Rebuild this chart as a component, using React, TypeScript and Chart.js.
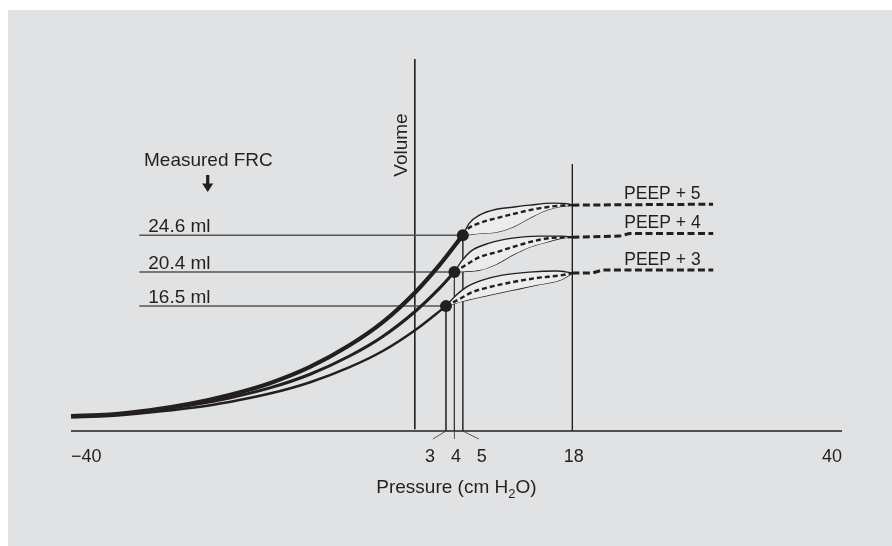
import { useEffect, useRef } from "react";
import { Chart, registerables } from "chart.js";

Chart.register(...registerables);

type Pt = [number, number];

// Pressure (cm H2O) vs. volume (ml) — schematic pressure–volume curves
const inflationPeep5: Pt[] = [[-41.5, 3.96], [-36.9, 4.13], [-32.2, 4.61], [-27.4, 5.35], [-22.7, 6.36], [-17.9, 7.71], [-13.2, 9.54], [-8.5, 12.0], [-4.5, 14.67], [-0.63, 18.09], [2.22, 21.17], [5, 24.6]];
const inflationPeep4: Pt[] = [[-41.5, 3.89], [-36.9, 4.09], [-32.2, 4.55], [-27.4, 5.18], [-22.7, 6.03], [-17.9, 7.17], [-13.2, 8.7], [-8.5, 10.78], [-4.5, 13.04], [-0.63, 15.92], [2.22, 18.52], [4, 20.4]];
const inflationPeep3: Pt[] = [[-41.5, 3.81], [-36.9, 3.96], [-32.2, 4.35], [-27.4, 4.87], [-22.7, 5.57], [-17.9, 6.52], [-13.2, 7.79], [-8.5, 9.51], [-4.5, 11.38], [-0.63, 13.78], [3, 16.5]];

const loop5Upper: Pt[] = [[5, 24.6], [5.78, 25.97], [6.97, 26.88], [8.98, 27.56], [10.88, 27.79], [12.9, 28.02], [15.63, 28.25], [17.64, 28.13], [18, 28.02]];
const loop5Mean: Pt[] = [[5, 24.6], [5.19, 24.94], [6.97, 25.97], [8.98, 26.54], [10.88, 26.99], [12.9, 27.45], [14.91, 27.79], [17.64, 28.02], [18, 28.02]];
const loop5Lower: Pt[] = [[5, 24.6], [7.32, 24.83], [8.98, 24.94], [10.88, 25.51], [12.9, 26.54], [14.91, 27.45], [16.81, 27.91], [18, 28.02]];
const tail5: Pt[] = [[18, 28.02], [26, 28.08], [34.7, 28.13]];

const loop4Upper: Pt[] = [[4, 20.4], [4.95, 21.75], [6.14, 22.89], [8.15, 23.69], [10.88, 24.26], [14.08, 24.49], [16.81, 24.49], [18, 24.37]];
const loop4Mean: Pt[] = [[4, 20.4], [4.95, 20.95], [6.97, 22.09], [8.98, 22.66], [10.88, 23.23], [12.9, 23.8], [15.27, 24.26], [18, 24.37]];
const loop4Lower: Pt[] = [[4, 20.4], [4.95, 20.45], [6.97, 20.61], [8.98, 21.29], [10.88, 22.32], [12.9, 23.23], [14.91, 23.8], [16.81, 24.26], [18, 24.37]];
const tail4: Pt[] = [[18, 24.37], [23.57, 24.49], [24.76, 24.79], [34.72, 24.79]];

const loop3Upper: Pt[] = [[3, 16.5], [4.24, 17.76], [5.42, 18.67], [7.32, 19.47], [9.69, 20.04], [12.9, 20.38], [16.1, 20.5], [18, 20.3]];
const loop3Mean: Pt[] = [[3, 16.5], [4.59, 17.3], [6.14, 18.1], [8.15, 18.67], [10.88, 19.24], [13.73, 19.7], [16.81, 20.04], [18, 20.27]];
const loop3Lower: Pt[] = [[3, 16.5], [4.95, 17.07], [8.15, 17.76], [10.88, 18.33], [13.73, 18.9], [16.81, 19.58], [18, 20.27]];
const tail3: Pt[] = [[18, 20.27], [20.37, 20.27], [21.56, 20.61], [34.72, 20.61]];

const frcVolumes = [24.6, 20.4, 16.5];
const frcPressures = [5, 4, 3];
const frcLabels = ["24.6 ml", "20.4 ml", "16.5 ml"];
const frcLineStartPressure = -33.4;
const peepLabels = ["PEEP + 5", "PEEP + 4", "PEEP + 3"];

const xTickValues = [-40, 3, 4, 5, 18, 40];
const xTickLabels = ["\u221240", "3", "4", "5", "18", "40"];
const peakPressure = 18;
const peakLineTopVolume = 32.7;
const volumeAxisPressure = -0.7;

const X_MIN = -41.5;
const X_MAX = 50;
const Y_MIN = 2.25;
const Y_MAX = 44.7;

const INK = "#231f20";
const FONT = '"Liberation Sans", Arial, Helvetica, sans-serif';

const toXY = (pts: Pt[]) => pts.map(([x, y]) => ({ x, y }));

function line(pts: Pt[], extra: Record<string, unknown> = {}) {
  return {
    data: toXY(pts),
    borderColor: INK,
    borderWidth: 1.3,
    pointRadius: 0,
    fill: false,
    cubicInterpolationMode: "monotone",
    order: 1,
    ...extra,
  };
}

const overlay = {
  id: "overlay",
  afterDatasetsDraw(chart: any) {
    const { ctx, chartArea: a, scales } = chart;
    const xs = scales.x;
    const ys = scales.y;
    ctx.save();
    // x axis
    ctx.strokeStyle = INK;
    ctx.lineWidth = 1.3;
    ctx.beginPath();
    ctx.moveTo(a.left, a.bottom);
    ctx.lineTo(a.right, a.bottom);
    ctx.stroke();

    // leader lines below the axis for 3, 4, 5
    ctx.lineWidth = 0.9;
    ctx.strokeStyle = "#444";
    const p3 = xs.getPixelForValue(3);
    const p4 = xs.getPixelForValue(4);
    const p5 = xs.getPixelForValue(5);
    ctx.beginPath();
    ctx.moveTo(p3, a.bottom);
    ctx.lineTo(p3 - 13, a.bottom + 8);
    ctx.moveTo(p4, a.bottom);
    ctx.lineTo(p4, a.bottom + 8);
    ctx.moveTo(p5, a.bottom);
    ctx.lineTo(p5 + 16, a.bottom + 8);
    ctx.stroke();

    // tick labels
    ctx.fillStyle = INK;
    ctx.font = `18px ${FONT}`;
    ctx.textBaseline = "alphabetic";
    const tickBase = a.bottom + 31;
    xTickValues.forEach((v, i) => {
      const label = xTickLabels[i];
      if (i === 0) {
        ctx.textAlign = "left";
        ctx.fillText(label, a.left, tickBase);
      } else if (i === xTickValues.length - 1) {
        ctx.textAlign = "right";
        ctx.fillText(label, a.right, tickBase);
      } else {
        let off = 1.5;
        if (v === 3) off = -16;
        if (v === 5) off = 19;
        ctx.textAlign = "center";
        ctx.fillText(label, xs.getPixelForValue(v) + off, tickBase);
      }
    });

    // axis title with subscript
    const big = `19px ${FONT}`;
    const small = `13px ${FONT}`;
    const t1 = "Pressure (cm H";
    const t2 = "2";
    const t3 = "O)";
    ctx.font = big;
    const w1 = ctx.measureText(t1).width;
    const w3 = ctx.measureText(t3).width;
    ctx.font = small;
    const w2 = ctx.measureText(t2).width;
    const total = w1 + w2 + w3;
    let tx = p4 + 2 - total / 2;
    const titleBase = a.bottom + 62;
    ctx.textAlign = "left";
    ctx.font = big;
    ctx.fillText(t1, tx, titleBase);
    tx += w1;
    ctx.font = small;
    ctx.fillText(t2, tx, titleBase + 5);
    tx += w2;
    ctx.font = big;
    ctx.fillText(t3, tx, titleBase);

    // Volume label (rotated)
    const vx = xs.getPixelForValue(volumeAxisPressure);
    ctx.save();
    ctx.translate(vx - 7.5, a.top + 86);
    ctx.rotate(-Math.PI / 2);
    ctx.font = `19px ${FONT}`;
    ctx.textAlign = "center";
    ctx.textBaseline = "alphabetic";
    ctx.fillText("Volume", 0, 0);
    ctx.restore();

    // Measured FRC + arrow
    ctx.font = `19px ${FONT}`;
    ctx.textAlign = "left";
    ctx.fillText("Measured FRC", 136, a.top + 107);
    const ax = 199.7;
    const ay = a.top + 116;
    ctx.fillRect(ax - 1.6, ay, 3.2, 10);
    ctx.beginPath();
    ctx.moveTo(ax - 5.5, ay + 8.5);
    ctx.lineTo(ax + 5.5, ay + 8.5);
    ctx.lineTo(ax, ay + 17);
    ctx.closePath();
    ctx.fill();

    // FRC labels
    frcVolumes.forEach((v, i) => {
      const yy = ys.getPixelForValue(v);
      ctx.fillText(frcLabels[i], xs.getPixelForValue(frcLineStartPressure) + 9, yy - 3);
    });

    // PEEP labels
    ctx.font = `17.5px ${FONT}`;
    const tails = [tail5, tail4, tail3];
    tails.forEach((t, i) => {
      const last = t[t.length - 1];
      const yy = ys.getPixelForValue(last[1]);
      ctx.fillText(peepLabels[i], xs.getPixelForValue(last[0]) - 89, yy - 5);
    });
    ctx.restore();
  },
};

export default function App() {
  const ref = useRef<HTMLCanvasElement | null>(null);
  useEffect(() => {
    if (!ref.current) return;
    const loopFill = "#ebecee";
    const datasets: any[] = [
      {
        data: frcPressures.map((p, i) => ({ x: p, y: frcVolumes[i] })),
        showLine: false,
        pointRadius: 6,
        pointBackgroundColor: INK,
        pointBorderWidth: 0,
        borderColor: INK,
        order: 0,
      },
      line(inflationPeep5, { borderWidth: 4.2 }),
      line(inflationPeep4, { borderWidth: 3.1 }),
      line(inflationPeep3, { borderWidth: 2.5 }),
    ];
    const loops: Pt[][][] = [
      [loop5Upper, loop5Mean, loop5Lower],
      [loop4Upper, loop4Mean, loop4Lower],
      [loop3Upper, loop3Mean, loop3Lower],
    ];
    loops.forEach(([u, m, l]) => {
      datasets.push(line(u, { borderWidth: 1.4, fill: "+2", backgroundColor: loopFill, order: 2 }));
      datasets.push(line(m, { borderWidth: 2.4, borderDash: [5, 3], order: 1 }));
      datasets.push(line(l, { borderWidth: 1.4, order: 2 }));
    });
    [tail5, tail4, tail3].forEach((t) => {
      datasets.push(line(t, { borderWidth: 3, borderDash: [7, 3.5], cubicInterpolationMode: "default", tension: 0 }));
    });
    frcVolumes.forEach((v, i) => {
      datasets.push(
        line([[frcLineStartPressure, v], [frcPressures[i], v]], { borderColor: "#555", borderWidth: 1.5, tension: 0, cubicInterpolationMode: "default", order: 3 })
      );
      datasets.push(
        line([[frcPressures[i], v], [frcPressures[i], Y_MIN]], { borderColor: "#3a3a3a", borderWidth: 1, tension: 0, cubicInterpolationMode: "default", order: 3 })
      );
    });
    datasets.push(
      line([[peakPressure, peakLineTopVolume], [peakPressure, Y_MIN]], { borderWidth: 1, tension: 0, cubicInterpolationMode: "default", order: 3 })
    );
    datasets.push(
      line([[volumeAxisPressure, Y_MAX], [volumeAxisPressure, Y_MIN + 0.2]], { borderWidth: 1, tension: 0, cubicInterpolationMode: "default", order: 3 })
    );

    const chart = new Chart(ref.current, {
      type: "line",
      data: { datasets },
      options: {
        animation: false,
        responsive: false,
        events: [],
        clip: false as any,
        layout: { padding: { left: 63, right: 50, top: 49, bottom: 115 } },
        plugins: { legend: { display: false }, tooltip: { enabled: false } },
        scales: {
          x: { type: "linear", min: X_MIN, max: X_MAX, display: false },
          y: { type: "linear", min: Y_MIN, max: Y_MAX, display: false },
        },
      },
      plugins: [overlay],
    });
    return () => chart.destroy();
  }, []);

  return (
    <div style={{ position: "fixed", left: 8, top: 10, width: 884, height: 536, background: "#e1e2e4" }}>
      <canvas ref={ref} width={884} height={536} style={{ display: "block" }} />
    </div>
  );
}
